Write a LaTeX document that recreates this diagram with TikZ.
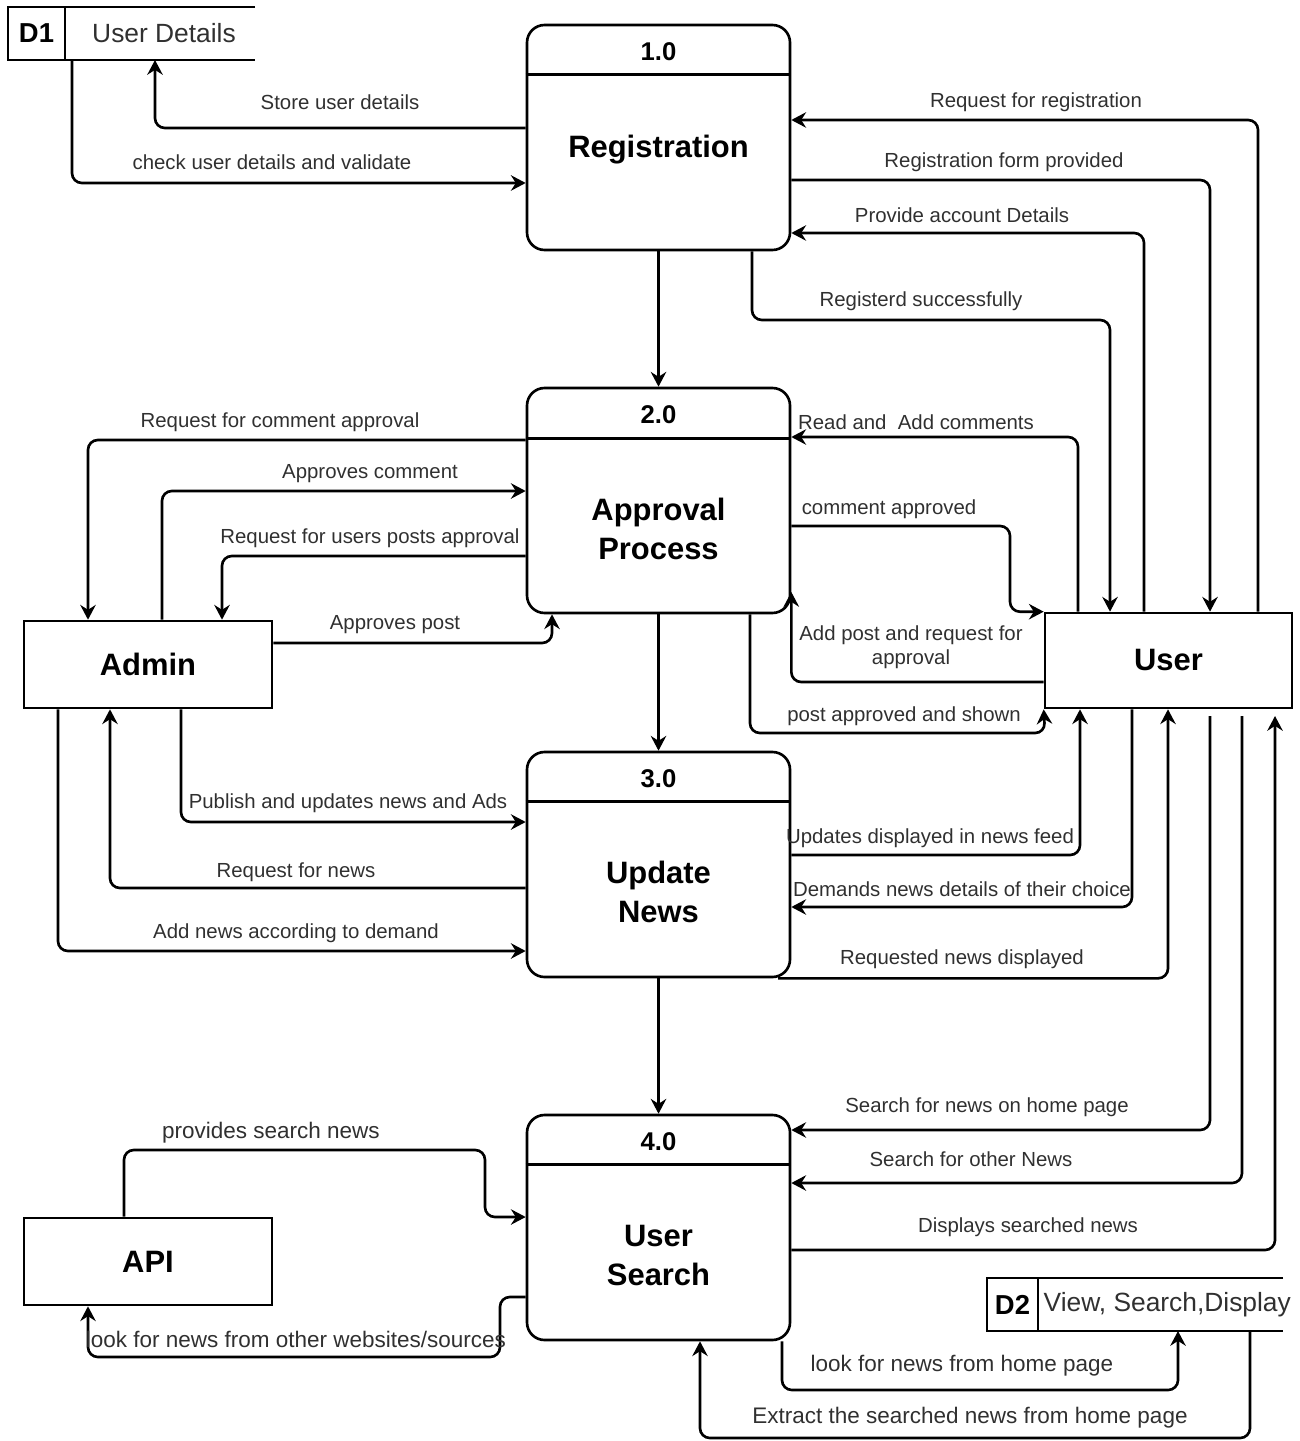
\documentclass[tikz,border=0pt]{standalone}
\usepackage{fontspec}
\setmainfont{Liberation Sans}
\usepackage{xcolor}
\usetikzlibrary{arrows.meta}
\definecolor{Ink}{HTML}{000000}
\definecolor{Label}{HTML}{303030}
\tikzset{
  flow/.style={-{Stealth[length=4.2pt, width=4.4pt, inset=1.4pt]}, line width=0.75pt, color=Ink, rounded corners=2.8pt},
  process/.style={draw=Ink, line width=0.75pt, rounded corners=5pt, minimum width=2.63cm, minimum height=2.25cm, inner sep=0pt},
  entity/.style={draw=Ink, line width=0.75pt, minimum width=2.48cm, minimum height=0.87cm, inner sep=0pt},
  storebox/.style={minimum height=0.53cm, inner sep=0pt, outer sep=0pt},
  storeline/.style={draw=Ink, line width=0.75pt},
  divider/.style={draw=Ink, line width=0.75pt},
  lbl/.style={font=\fontsize{5.8}{6.8}\selectfont, text=Label, inner sep=0pt},
  lblbig/.style={font=\fontsize{6.4}{7.4}\selectfont, text=Label, inner sep=0pt},
  ptitle/.style={font=\fontsize{8.8}{11}\selectfont\bfseries, align=center, inner sep=0pt},
  pnum/.style={font=\fontsize{7.3}{8}\selectfont\bfseries, inner sep=0pt},
  ename/.style={font=\fontsize{8.8}{10}\selectfont\bfseries, inner sep=0pt},
  sid/.style={font=\fontsize{7.8}{9}\selectfont\bfseries, inner sep=0pt},
  sname/.style={font=\fontsize{7.5}{9}\selectfont, text=Label, inner sep=0pt},
}

\begin{document}
\begin{tikzpicture}
  \useasboundingbox (0,0) rectangle (13,-14.41);

  % Processes
  \node[process] (reg) at (6.585,-1.375) {};
  \node[process] (appr) at (6.585,-5.005) {};
  \node[process] (upd) at (6.585,-8.645) {};
  \node[process] (srch) at (6.585,-12.275) {};

  \draw[divider] ([yshift=-0.51cm]reg.north west) -- ([yshift=-0.51cm]reg.north east);
  \draw[divider] ([yshift=-0.52cm]appr.north west) -- ([yshift=-0.52cm]appr.north east);
  \draw[divider] ([yshift=-0.51cm]upd.north west) -- ([yshift=-0.51cm]upd.north east);
  \draw[divider] ([yshift=-0.51cm]srch.north west) -- ([yshift=-0.51cm]srch.north east);

  \node[pnum] (regno) at ([yshift=-0.28cm]reg.north) {1.0};
  \node[pnum] (apprno) at ([yshift=-0.28cm]appr.north) {2.0};
  \node[pnum] (updno) at ([yshift=-0.28cm]upd.north) {3.0};
  \node[pnum] (srchno) at ([yshift=-0.28cm]srch.north) {4.0};

  \node[ptitle] (regname) at ([yshift=-1.26cm]reg.north) {Registration};
  \node[ptitle] (apprname) at ([yshift=-1.42cm]appr.north) {Approval\\Process};
  \node[ptitle] (updname) at ([yshift=-1.41cm]upd.north) {Update\\News};
  \node[ptitle] (srchname) at ([yshift=-1.42cm]srch.north) {User\\Search};

  % External entities
  \node[entity] (admin) at (1.48,-6.645) {};
  \node[ename] (adminname) at (admin) {Admin};
  \node[entity, minimum width=2.47cm, minimum height=0.95cm] (user) at (11.685,-6.605) {};
  \node[ename] (username) at (user) {User};
  \node[entity] (api) at (1.48,-12.615) {};
  \node[ename] (apiname) at (api) {API};

  % Data stores
  \node[storebox, minimum width=2.47cm] (d1) at (1.315,-0.335) {};
  \draw[storeline] (d1.north east) -- (d1.north west) -- (d1.south west) -- (d1.south east);
  \draw[storeline] (0.65,0 |- d1.north) -- (0.65,0 |- d1.south);
  \node[sid] (d1id) at (0.365,-0.335) {D1};
  \node[sname] (d1name) at (1.64,-0.335) {User Details};

  \node[storebox, minimum width=2.96cm] (d2) at (11.35,-13.045) {};
  \draw[storeline] (d2.north east) -- (d2.north west) -- (d2.south west) -- (d2.south east);
  \draw[storeline] (10.38,0 |- d2.north) -- (10.38,0 |- d2.south);
  \node[sid] (d2id) at (10.125,-13.045) {D2};
  \node[sname, anchor=west] (d2name) at (10.43,-13.045) {View, Search,Display};

  % Free ends below the user box
  \coordinate (ua) at (12.10,-7.16);
  \coordinate (ub) at (12.42,-7.16);
  \coordinate (uc) at (12.75,-7.16);

  % Registration flows
  \draw[flow] (reg.west |- 0,-1.28) -| (1.55,0 |- d1.south);
  \draw[flow] (0.72,0 |- d1.south) |- (reg.west |- 0,-1.83);
  \draw[flow] (12.58,0 |- user.north) |- (reg.east |- 0,-1.20);
  \draw[flow] (reg.east |- 0,-1.80) -| (12.10,0 |- user.north);
  \draw[flow] (11.44,0 |- user.north) |- (reg.east |- 0,-2.33);
  \draw[flow] (7.52,0 |- reg.south) -- (7.52,-3.20) -| (11.10,0 |- user.north);
  \draw[flow] (reg) -- (appr);

  \node[lbl] (lstore) at (3.40,-1.02) {Store user details};
  \node[lbl] (lcheck) at (2.72,-1.62) {check user details and validate};
  \node[lbl] (lreqreg) at (10.36,-1.02) {Request for registration};
  \node[lbl] (lform) at (10.04,-1.62) {Registration form provided};
  \node[lbl] (laccount) at (9.62,-2.15) {Provide account Details};
  \node[lbl] (lregok) at (9.21,-3.01) {Registerd successfully};

  % Approval flows
  \draw[flow] (10.78,0 |- user.north) |- (appr.east |- 0,-4.37);
  \draw[flow] (appr.west |- 0,-4.40) -| (0.88,0 |- admin.north);
  \draw[flow] (1.62,0 |- admin.north) |- (appr.west |- 0,-4.91);
  \draw[flow] (appr.west |- 0,-5.56) -| (2.22,0 |- admin.north);
  \draw[flow] (admin.east |- 0,-6.43) -| (5.52,0 |- appr.south);
  \draw[flow] (appr.east |- 0,-5.26) -- (10.10,-5.26) |- (user.north west);
  \draw[flow] (user.west |- 0,-6.82) -| (appr.east |- 0,-5.92);
  \draw[flow] (7.50,0 |- appr.south) |- (10.45,-7.33) -- (user.south west);
  \draw[flow] (appr) -- (upd);

  \node[lbl] (lcomreq) at (2.80,-4.22) {Request for comment approval};
  \node[lbl] (lread) at (9.16,-4.22) {Read and\ \ Add comments};
  \node[lbl] (lapcom) at (3.70,-4.74) {Approves comment};
  \node[lbl] (lpostreq) at (3.70,-5.38) {Request for users posts approval};
  \node[lbl] (lappost) at (3.95,-6.25) {Approves post};
  \node[lbl] (lcomok) at (8.89,-5.09) {comment approved};
  \node[lbl, align=center] (laddpost) at (9.11,-6.47) {Add post and request for\\approval};
  \node[lbl] (lpostok) at (9.04,-7.16) {post approved and shown};

  % Update news flows
  \draw[flow] (1.81,0 |- admin.south) |- (upd.west |- 0,-8.22);
  \draw[flow] (upd.west |- 0,-8.88) -| (1.10,0 |- admin.south);
  \draw[flow] (0.58,0 |- admin.south) |- (upd.west |- 0,-9.51);
  \draw[flow] (upd.east |- 0,-8.55) -| (10.80,0 |- user.south);
  \draw[flow] (11.32,0 |- user.south) |- (upd.east |- 0,-9.07);
  \draw[flow] (7.78,0 |- upd.south) -| (11.68,0 |- user.south);
  \draw[flow] (upd) -- (srch);

  \node[lbl] (lpublish) at (3.48,-8.03) {Publish and updates news and Ads};
  \node[lbl] (lreqnews) at (2.96,-8.72) {Request for news};
  \node[lbl] (laddnews) at (2.96,-9.33) {Add news according to demand};
  \node[lbl] (lfeed) at (9.30,-8.38) {Updates displayed in news feed};
  \node[lbl] (ldemand) at (9.62,-8.89) {Demands news details of their choice};
  \node[lbl] (lshown) at (9.62,-9.59) {Requested news displayed};

  % User search flows
  \draw[flow] (ua) |- (srch.east |- 0,-11.30);
  \draw[flow] (ub) |- (srch.east |- 0,-11.83);
  \draw[flow] (srch.east |- 0,-12.50) -| (uc);
  \draw[flow] (1.24,0 |- api.north) |- (4.85,-11.50) |- (srch.west |- 0,-12.17);
  \draw[flow] (srch.west |- 0,-12.97) -| (5.00,-13.57) -| (0.88,0 |- api.south);
  \draw[flow] (7.82,0 |- srch.south) |- (11.78,-13.90) -- (11.78,0 |- d2.south);
  \draw[flow] (12.50,0 |- d2.south) |- (7.00,-14.38) -- (7.00,0 |- srch.south);

  \node[lbl] (lsearchhome) at (9.87,-11.07) {Search for news on home page};
  \node[lbl] (lsearchother) at (9.71,-11.59) {Search for other News};
  \node[lbl] (ldisplay) at (10.28,-12.27) {Displays searched news};
  \node[lblbig] (lprovides) at (2.71,-11.33) {provides search news};
  \node[lblbig] (lother) at (2.96,-13.39) {look for news from other websites/sources};
  \node[lblbig] (lhome) at (9.62,-13.66) {look for news from home page};
  \node[lblbig] (lextract) at (9.70,-14.18) {Extract the searched news from home page};
\end{tikzpicture}
\end{document}
